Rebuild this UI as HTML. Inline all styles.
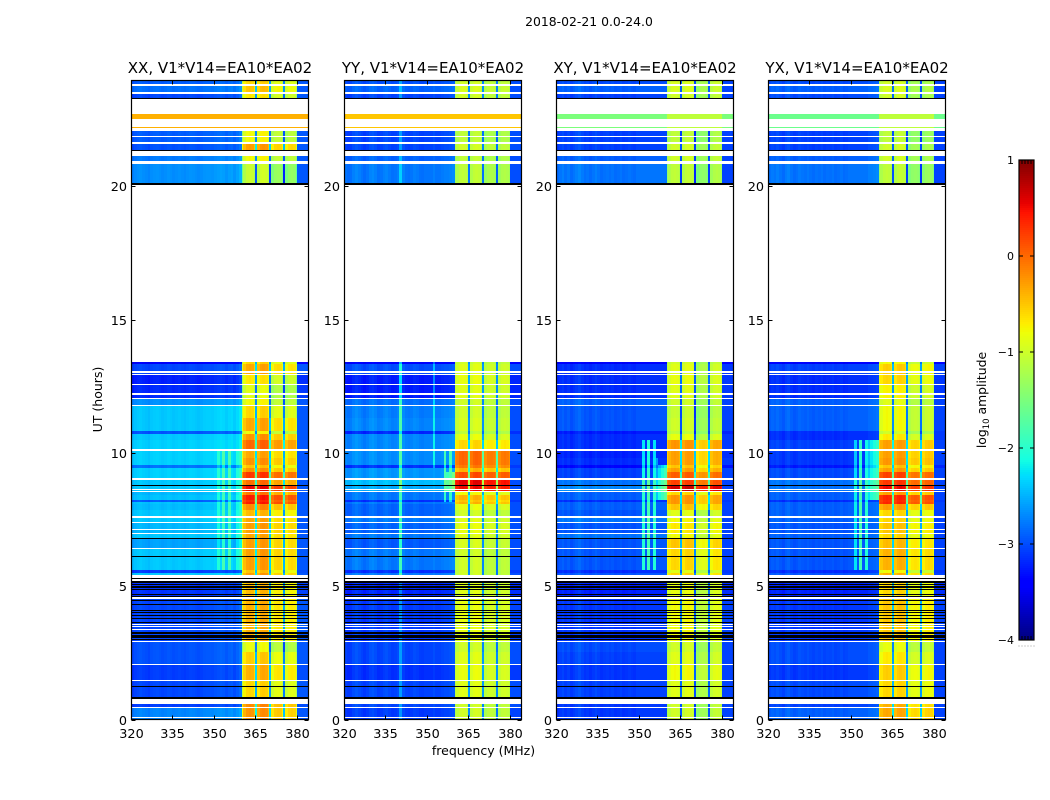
<!DOCTYPE html>
<html lang="en">
<head>
<meta charset="utf-8">
<title>2018-02-21 visibility amplitude waterfall</title>
<style>
html,body{margin:0;padding:0;background:#fff;}
svg{display:block;font-family:"DejaVu Sans","Liberation Sans",sans-serif;fill:#000;}
</style>
</head>
<body>
<svg id="figure" xmlns="http://www.w3.org/2000/svg" width="1050" height="800" viewBox="0 0 1050 800">
  <rect x="0" y="0" width="1050" height="800" fill="#fff"/>
  <text x="589" y="26" font-size="12.4" text-anchor="middle">2018-02-21 0.0-24.0</text>
  <text x="0" y="0" font-size="12.5" text-anchor="middle" transform="translate(102,399.5) rotate(-90)">UT (hours)</text>
  <text x="483.5" y="755" font-size="12.5" text-anchor="middle">frequency (MHz)</text>
  <text font-size="12.4" text-anchor="middle" transform="translate(986,400) rotate(-90)">log<tspan font-size="8.5" dy="3">10</tspan><tspan dy="-3"> amplitude</tspan></text>
</svg>
<script>
// ---- shared axis data ----
const panelNames = ['XX','YY','XY','YX'];
const panelTitles = ['XX, V1*V14=EA10*EA02','YY, V1*V14=EA10*EA02','XY, V1*V14=EA10*EA02','YX, V1*V14=EA10*EA02'];
const xTicks = [320,335,350,365,380];
const yTicks = [0,5,10,15,20];
const cbarTicks = [1,0,-1,-2,-3,-4];

// Channel edges in MHz: 1 MHz background channels, narrow notches between the sub-bands
const channelEdges = [320,321,322,323,324,325,326,327,328,329,330,331,332,333,334,335,336,337,338,339,340,341,342,343,344,345,346,347,348,349,350,351,352,353,354,355,356,357,358,359,360,
360.5,361.5,362.5,363.5,364.5,365,365.5,366.5,367.5,368.5,369.5,370,370.7,371.7,372.7,373.7,374.7,375.1,375.7,376.7,377.7,378.7,379.5,380,381,382,383,384];

// Row table, top to bottom: start time of each row (hours), and band id (-1 flagged white, -2 zero/black)
const rowTops = [24.00,23.82,23.76,23.54,23.46,23.31,23.26,22.71,22.52,22.22,22.19,22.07,21.89,21.85,21.66,21.58,21.36,21.32,21.13,20.95,20.83,20.11,20.05,
13.41,13.33,13.07,13.01,12.98,12.92,12.58,12.54,12.24,12.17,12.05,12.02,11.79,11.76,11.31,10.82,10.70,10.48,10.15,10.09,9.82,9.56,9.45,9.30,9.05,8.99,8.81,8.77,8.66,8.62,8.58,8.54,8.43,8.24,8.17,8.09,7.87,7.62,7.57,7.42,7.38,7.15,7.12,7.00,6.97,6.80,6.77,6.44,6.40,6.12,6.08,5.61,5.50,5.43,
5.31,5.28,5.18,5.13,5.09,5.05,5.01,4.94,4.90,4.86,4.71,4.67,4.62,4.58,4.53,4.49,4.45,4.34,4.30,4.19,4.11,4.08,4.02,3.98,3.92,3.89,3.81,3.77,3.66,3.62,3.59,3.55,3.51,3.47,3.40,3.36,3.27,3.21,3.17,3.06,3.02,2.99,2.93,2.89,2.54,2.08,2.05,1.49,1.43,1.26,1.22,0.85,0.77,0.58,0.47,0.43,0.08,0.04];
const rowBands = [0,-1,1,-1,2,-2,-1,3,-1,3,-1,4,-1,4,-1,5,-2,-1,6,-1,7,-2,-1,
8,9,-1,9,-1,10,-1,11,-1,11,-1,12,-1,13,14,15,16,17,-1,18,19,20,21,22,-1,23,-2,24,-1,24,-1,25,26,27,26,28,29,-1,30,-1,31,-1,31,-1,30,-2,32,-1,33,-2,33,34,33,-1,
-2,-1,-2,35,-2,35,-2,35,-2,35,-2,35,-2,-1,36,-2,36,-2,36,36,-2,36,-2,36,-2,36,-2,36,-2,36,-1,36,-1,36,-1,36,-2,36,-2,36,-2,36,-1,37,38,-1,39,-1,40,-2,40,-2,-1,41,-1,42,-1,42];

// Band levels in log10 amplitude: background and sub-band centre, per polarisation
const XX_bg = [-2.95,-2.85,-3.05,-0.38,-2.95,-3.0,-2.8,-2.7,-3.5,-3.05,-3.25,-3.2,-2.7,-2.42,-2.42,-3.0,-2.42,-2.38,-2.38,-2.38,-2.85,-2.38,-2.38,-2.42,-2.42,-2.5,-2.45,-2.95,-2.48,-2.42,-2.42,-2.5,-2.6,-2.42,-3.1,-3.15,-3.05,-3.0,-3.0,-3.1,-3.05,-3.1,-2.75];
const XX_sb = [-0.6,-0.5,-0.7,-0.38,-0.8,-0.3,-0.8,-1.05,-0.6,-0.35,-0.7,-0.9,-0.8,-0.6,-0.35,-0.8,-0.25,0.0,-0.35,-0.25,-0.5,-0.25,0.25,-0.05,0.5,-0.1,0.4,0.3,-0.2,-0.45,-0.35,-0.3,-0.3,-0.3,-0.5,-0.45,-0.4,-0.85,-0.55,-0.4,-0.6,-0.2,-0.25];
const YY_bg = [-3.05,-2.95,-3.1,-0.5,-3.1,-3.1,-2.95,-2.85,-3.5,-3.05,-3.3,-3.3,-2.9,-2.82,-2.78,-3.25,-2.78,-2.78,-2.75,-2.75,-3.2,-2.7,-2.7,-2.5,-2.6,-2.85,-2.85,-3.2,-2.95,-2.95,-2.85,-2.95,-3.0,-2.85,-3.2,-3.25,-3.15,-3.1,-3.1,-3.2,-3.1,-3.1,-3.15];
const YY_sb = [-1.0,-0.95,-1.0,-0.5,-1.1,-1.0,-1.1,-1.1,-1.0,-0.9,-0.85,-0.9,-1.0,-1.0,-0.95,-1.1,-0.85,-0.6,0.0,0.0,-0.1,-0.4,0.15,0.55,0.5,-0.8,-0.4,-0.5,-0.85,-1.0,-0.9,-0.85,-0.95,-1.0,-1.0,-0.9,-0.85,-1.0,-0.9,-0.85,-0.9,-1.0,-1.0];
const XY_bg = [-3.05,-2.95,-3.1,-1.5,-3.1,-3.1,-2.95,-2.85,-3.5,-3.2,-3.2,-3.2,-2.95,-3.0,-3.0,-3.3,-3.2,-3.2,-3.25,-3.2,-3.4,-3.1,-3.1,-2.85,-2.75,-2.95,-2.95,-3.2,-2.95,-3.0,-2.85,-3.0,-3.0,-3.0,-3.2,-3.25,-3.15,-3.05,-3.1,-3.15,-3.1,-3.15,-3.15];
const XY_sb = [-0.95,-0.95,-1.0,-1.1,-1.1,-1.0,-1.0,-1.1,-1.0,-0.9,-0.85,-0.9,-1.0,-1.05,-1.0,-1.1,-0.85,-0.25,-0.3,-0.3,-0.5,-0.3,0.05,0.2,0.65,-0.6,-0.25,-0.25,-0.5,-0.9,-0.8,-0.7,-0.5,-0.6,-0.9,-0.85,-0.8,-1.0,-0.9,-0.8,-0.9,-1.0,-1.0];
const YX_bg = [-3.05,-2.95,-3.05,-1.6,-3.1,-3.1,-2.95,-2.85,-3.5,-3.1,-3.2,-3.2,-2.95,-2.95,-2.95,-3.2,-3.2,-3.1,-3.15,-3.15,-3.3,-3.05,-3.05,-2.85,-2.85,-2.95,-2.95,-3.2,-2.95,-2.95,-2.95,-3.0,-3.0,-3.0,-3.2,-3.25,-3.15,-3.05,-3.05,-3.15,-3.05,-3.1,-2.95];
const YX_sb = [-1.0,-0.95,-1.0,-1.1,-1.1,-1.0,-1.0,-1.1,-0.8,-0.55,-0.6,-0.75,-0.9,-0.8,-0.8,-1.0,-0.7,-0.3,-0.3,-0.25,-0.5,-0.3,0.2,0.25,0.5,-0.3,0.35,0.3,-0.3,-0.6,-0.6,-0.5,-0.45,-0.4,-0.8,-0.6,-0.5,-0.85,-0.7,-0.55,-0.6,-0.4,-0.35];

// Sub-band mean offsets (360-365, 365-370, 370-375, 375-380 MHz)
const XX_subbands = [0,0.05,-0.28,-0.32];
const YY_subbands = [0,0.02,-0.12,-0.1];
const XY_subbands = [0,0.02,-0.3,-0.08];
const YX_subbands = [0,0.02,-0.28,-0.22];

// Per-channel offsets, read from the vertical striping
const XX_channels = [-.05,0,.03,.05,.02,0,-.03,.02,.04,.05,.03,0,.02,.05,.03,0,.02,.04,.02,0,.03,.05,.04,.02,0,.02,.05,.06,.06,.05,.08,.1,.12,.1,.05,.1,.12,.05,.12,.2,
-.55,-.15,0,.03,0,-.2,-1.95,-.15,0,.03,0,-.2,-1.75,-.15,0,.03,0,-.2,-1.85,-.15,0,.03,0,-.3,0,0,0,0];
const YY_channels = [.05,0,.02,.1,.15,.1,.05,0,.05,.12,.15,.1,.03,.05,.1,.13,.08,.03,.05,.1,.2,.12,.05,.03,.05,.1,.08,.03,.02,.05,.05,.05,.1,.05,.05,.08,.1,.1,.12,.15,
-.2,-.1,0,.03,0,-.1,-1.7,-.1,0,.03,0,-.15,-1.6,-.1,0,.03,0,-.1,-1.7,-.1,0,.03,0,-.1,0,0,0,0];
const XY_channels = [0,.05,.1,.03,.08,0,.05,.1,.15,.08,.02,.05,0,.05,.1,.05,0,.03,.05,.02,.05,0,.02,.05,0,.02,.05,.02,0,.05,.05,.05,.05,.05,.05,.05,.05,.05,.05,.05,
-.25,-.1,0,.03,0,-.1,-2.0,-.1,0,.03,0,-.1,-1.8,-.1,0,.03,0,-.1,-1.9,-.1,0,.03,0,-.1,0,0,0,0];
const YX_channels = [.03,.08,.05,.1,.05,0,.08,.12,.05,0,.03,.08,.05,.03,.07,.03,0,.04,.02,.05,0,.03,.02,.05,0,.02,.05,0,.02,.05,.05,.05,.05,.05,.05,.05,.1,.1,.12,.15,
-.25,-.1,0,.03,0,-.1,-1.9,-.1,0,.03,0,-.1,-1.7,-.1,0,.03,0,-.1,-1.8,-.1,0,.03,0,-.15,0,0,0,0];

// Tail level above 380 MHz, per polarisation
const tailLevels = [-2.95,-3.0,-3.05,-3.05];

// Narrow-band lines: [channel MHz, time start, time end, boost in log10]
const XX_lines = [[351,5.6,10.2,.25],[353,5.6,10.3,.5],[355,5.6,10.3,.5],[358,5.6,10.3,.2],[359,5.6,10.3,.25]];
const YY_lines = [[340,5.4,13.45,.8],[340,0,5.4,.3],[340,20,24,.3],[352,9.5,13.4,.5],[356,8.2,10.2,.8],[358,8.2,10.2,.8],[357,8.5,9.2,.7],[359,8.5,9.2,1.0]];
const XY_lines = [[351,5.6,10.4,.9],[353,5.6,10.4,1.1],[355,5.6,10.4,.9],[356,8.3,9.8,.5],[357,8.3,9.6,.8],[358,8.3,9.6,1.0],[359,8.3,9.6,1.2]];
const YX_lines = [[351,5.6,10.4,.7],[353,5.6,10.4,1.1],[355,5.6,10.4,.9],[356,8.3,10.5,.6],[357,8.3,10.5,.8],[358,8.3,10.5,.9],[359,8.3,10.5,1.0]];

// Bands drawn without channel structure (the broadband bar near 22.6 h)
const flatBands = [3];

const panelBg = [XX_bg,YY_bg,XY_bg,YX_bg];
const panelSb = [XX_sb,YY_sb,XY_sb,YX_sb];
const panelSubbands = [XX_subbands,YY_subbands,XY_subbands,YX_subbands];
const panelChannels = [XX_channels,YY_channels,XY_channels,YX_channels];
const panelLines = [XX_lines,YY_lines,XY_lines,YX_lines];

// ---- axis functions ----
const axesLeft = [131,344,556,768];
const axesWidth = 177, axesTop = 80.5, axesBottom = 719.5;
const pxPerHour = 26.66;
const xMin = 320, xMax = 384;
function xScale(panel, f){ return axesLeft[panel] + (f - xMin) / (xMax - xMin) * axesWidth; }
function yScale(t){ return Math.max(axesTop, axesBottom - t * pxPerHour); }
const cbLeft = 1019, cbRight = 1034, cbTop = 160, cbBottom = 640, cbMin = -4, cbMax = 1;
function cbScale(v){ return cbBottom - (v - cbMin) / (cbMax - cbMin) * (cbBottom - cbTop); }

// ---- jet colormap ----
function seg(pts, x){
  for(let i = 1; i < pts.length; i++){
    if(x <= pts[i][0]){
      const a = pts[i-1], b = pts[i];
      return a[1] + (b[1]-a[1]) * (x-a[0]) / (b[0]-a[0]);
    }
  }
  return pts[pts.length-1][1];
}
const jetR = [[0,0],[.35,0],[.66,1],[.89,1],[1,.5]];
const jetG = [[0,0],[.125,0],[.375,1],[.64,1],[.91,0],[1,0]];
const jetB = [[0,.5],[.11,1],[.34,1],[.65,0],[1,0]];
function jet(v){
  const n = Math.max(0, Math.min(1, (v - cbMin) / (cbMax - cbMin)));
  const c = p => Math.round(seg(p, n) * 255);
  return 'rgb(' + c(jetR) + ',' + c(jetG) + ',' + c(jetB) + ')';
}

// ---- drawing ----
const NS = 'http://www.w3.org/2000/svg';
const svg = document.getElementById('figure');
function make(tag, attrs, parent, text){
  const el = document.createElementNS(NS, tag);
  for(const k in attrs) el.setAttribute(k, attrs[k]);
  if(text !== undefined) el.textContent = text;
  parent.appendChild(el);
  return el;
}
function fmt(v){ return String(v).replace('-', '\u2212'); }

function cellValue(p, band, ch, tMid){
  const f = channelEdges[ch];
  const flat = flatBands.indexOf(band) >= 0;
  if(f >= 360 && f < 380){
    const v = panelSb[p][band];
    if(flat) return v;
    const sub = f < 365 ? 0 : f < 370 ? 1 : f < 375.1 ? 2 : 3;
    return v + panelSubbands[p][sub] + panelChannels[p][ch];
  }
  const b = panelBg[p][band];
  if(flat) return b;
  if(f >= 380) return Math.min(tailLevels[p], b + .1);
  let v = b + panelChannels[p][ch];
  panelLines[p].forEach(function(l){
    if(l[0] === f && tMid >= l[1] && tMid <= l[2]) v += l[3];
  });
  return v;
}

panelNames.forEach(function(name, p){
  const g = make('g', {}, svg);
  
  

  const heat = make('g', {'shape-rendering':'crispEdges'}, g);
  
  

  rowTops.forEach(function(top, r){
    const band = rowBands[r];
    if(band === -1) return;
    const bottom = r + 1 < rowTops.length ? rowTops[r+1] : 0;
    const tMid = (top + bottom) / 2;
    const y0 = Math.round(yScale(top));
    const y1 = Math.max(y0 + 1, Math.round(yScale(bottom)));
    if(band === -2){
      const line = make('rect', {x:axesLeft[p], y:y0, width:axesWidth, height:y1-y0, fill:'#000'}, heat);
      
      
      return;
    }
    for(let ch = 0; ch < channelEdges.length - 1; ch++){
      const x0 = Math.round(xScale(p, channelEdges[ch]));
      const x1 = Math.round(xScale(p, channelEdges[ch+1]));
      if(x1 <= x0) continue;
      const cell = make('rect', {x:x0, y:y0, width:x1-x0, height:y1-y0, fill:jet(cellValue(p, band, ch, tMid))}, heat);
      
      
    }
  });

  const frame = make('rect', {x:axesLeft[p]+.5, y:axesTop, width:axesWidth, height:axesBottom-axesTop, fill:'none', stroke:'#000', 'stroke-width':1.2}, g);
  
  

  const title = make('text', {x:axesLeft[p]+axesWidth/2+.5, y:73, 'font-size':15, 'text-anchor':'middle'}, g, panelTitles[p]);
  
  

  xTicks.forEach(function(f){
    const x = Math.round(xScale(p, f)) + .5;
    const t1 = make('line', {x1:x, x2:x, y1:axesBottom, y2:axesBottom-4, stroke:'#000', 'stroke-width':1}, g);
    
    
    const t2 = make('line', {x1:x, x2:x, y1:axesTop, y2:axesTop+4, stroke:'#000', 'stroke-width':1}, g);
    
    
    const lab = make('text', {x:x, y:738, 'font-size':12.8, 'text-anchor':'middle'}, g, fmt(f));
    
    
  });

  yTicks.forEach(function(t){
    const y = Math.round(yScale(t)) + .5;
    const t1 = make('line', {x1:axesLeft[p]+.5, x2:axesLeft[p]+4.5, y1:y, y2:y, stroke:'#000', 'stroke-width':1}, g);
    
    
    const t2 = make('line', {x1:axesLeft[p]+axesWidth+.5, x2:axesLeft[p]+axesWidth-3.5, y1:y, y2:y, stroke:'#000', 'stroke-width':1}, g);
    
    
    const lab = make('text', {x:axesLeft[p]-4, y:y+4.5, 'font-size':12.8, 'text-anchor':'end'}, g, fmt(t));
    
    
  });
});

// ---- colorbar ----
const cb = make('g', {}, svg);


const cbRamp = make('g', {'shape-rendering':'crispEdges'}, cb);


for(let py = cbTop; py < cbBottom; py += 2){
  const v = cbMax - (py + 1 - cbTop) / (cbBottom - cbTop) * (cbMax - cbMin);
  const s = make('rect', {x:cbLeft, y:py, width:cbRight-cbLeft, height:2, fill:jet(v)}, cbRamp);
  
  
}
const cbFrame = make('rect', {x:cbLeft, y:cbTop, width:cbRight-cbLeft, height:cbBottom-cbTop, fill:'none', stroke:'#000', 'stroke-width':1.2}, cb);


cbarTicks.forEach(function(v){
  const y = cbScale(v);
  const left = make('line', {x1:cbLeft, x2:cbLeft+4, y1:y, y2:y, stroke:'#000', 'stroke-width':1}, cb);
  
  
  const right = make('line', {x1:cbRight, x2:cbRight-4, y1:y, y2:y, stroke:'#000', 'stroke-width':1}, cb);
  
  
  const lab = make('text', {x:1014, y:y+4, 'font-size':11, 'text-anchor':'end'}, cb, fmt(v));
  
  
});
const cbMinorSteps = [0,1,2,3,4,5];
cbMinorSteps.forEach(function(i){
  const x = cbLeft + (cbRight - cbLeft) * i / 5;
  const top = make('line', {x1:x, x2:x, y1:cbTop, y2:cbTop+4, stroke:'#000', 'stroke-width':1}, cb);
  
  
  const bottom = make('line', {x1:x, x2:x, y1:cbBottom, y2:cbBottom-4, stroke:'#000', 'stroke-width':1}, cb);
  
  
  const dot = make('rect', {x:x-.5, y:645.5, width:1, height:1, fill:'#999'}, cb);
  
  
});
</script>
</body>
</html>
